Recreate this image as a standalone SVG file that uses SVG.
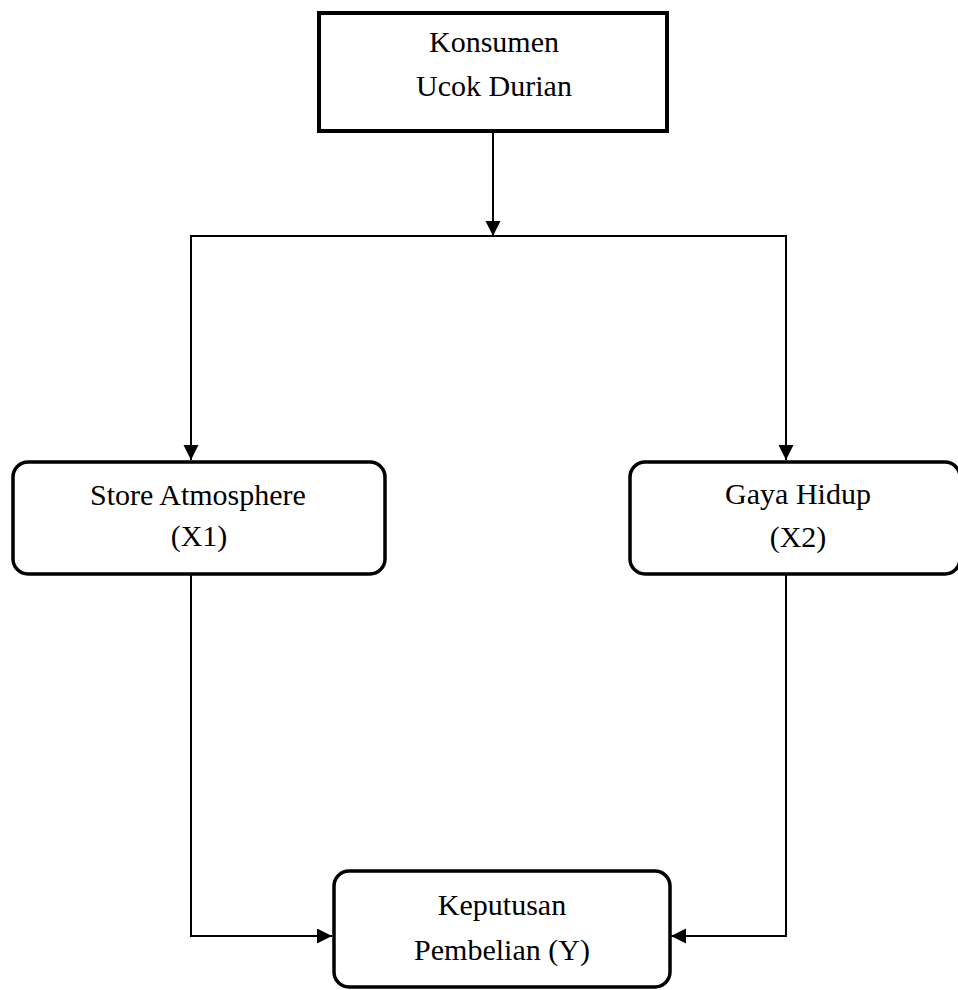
<svg xmlns="http://www.w3.org/2000/svg" width="958" height="990" viewBox="0 0 958 990">
<style>
  .box { fill: #fff; stroke: #000; }
  .rbox { fill: #fff; stroke: #000; stroke-width: 3.5; }
  .lbl { font-family: "Liberation Serif", "Times New Roman", serif; font-size: 30px; fill: #000; text-anchor: middle; }
  .conn { fill: none; stroke: #000; stroke-width: 2; }
</style>
<defs>
  <marker id="ah" markerUnits="userSpaceOnUse" markerWidth="16" markerHeight="16" refX="15" refY="7.5" orient="auto">
    <path d="M0,0 L15,7.5 L0,15 Z" fill="#000"/>
  </marker>
</defs>
<rect width="958" height="990" fill="#fff"/>
<g id="connectors">
  <line class="conn" x1="493" y1="131" x2="493" y2="236" marker-end="url(#ah)"/>
  <line class="conn" x1="190" y1="236" x2="787" y2="236"/>
  <line class="conn" x1="191" y1="236" x2="191" y2="460" marker-end="url(#ah)"/>
  <line class="conn" x1="786" y1="236" x2="786" y2="460" marker-end="url(#ah)"/>
  <polyline class="conn" points="191,574 191,936 332,936" marker-end="url(#ah)"/>
  <polyline class="conn" points="786,574 786,936 671,936" marker-end="url(#ah)"/>
</g>
<g id="konsumen">
  <rect class="box" x="319" y="13" width="348" height="118" stroke-width="4"/>
  <text class="lbl" x="494" y="52">Konsumen</text>
  <text class="lbl" x="494" y="96">Ucok Durian</text>
</g>
<g id="store-atmosphere">
  <rect class="rbox" x="13" y="462" width="372" height="112" rx="15" ry="15"/>
  <text class="lbl" x="198" y="505">Store Atmosphere</text>
  <text class="lbl" x="199" y="546">(X1)</text>
</g>
<g id="gaya-hidup">
  <rect class="rbox" x="630" y="462" width="330" height="112" rx="15" ry="15"/>
  <text class="lbl" x="798" y="504">Gaya Hidup</text>
  <text class="lbl" x="798" y="547">(X2)</text>
</g>
<g id="keputusan">
  <rect class="rbox" x="334" y="871" width="336" height="116" rx="15" ry="15"/>
  <text class="lbl" x="502" y="915">Keputusan</text>
  <text class="lbl" x="502" y="960">Pembelian (Y)</text>
</g>
</svg>
